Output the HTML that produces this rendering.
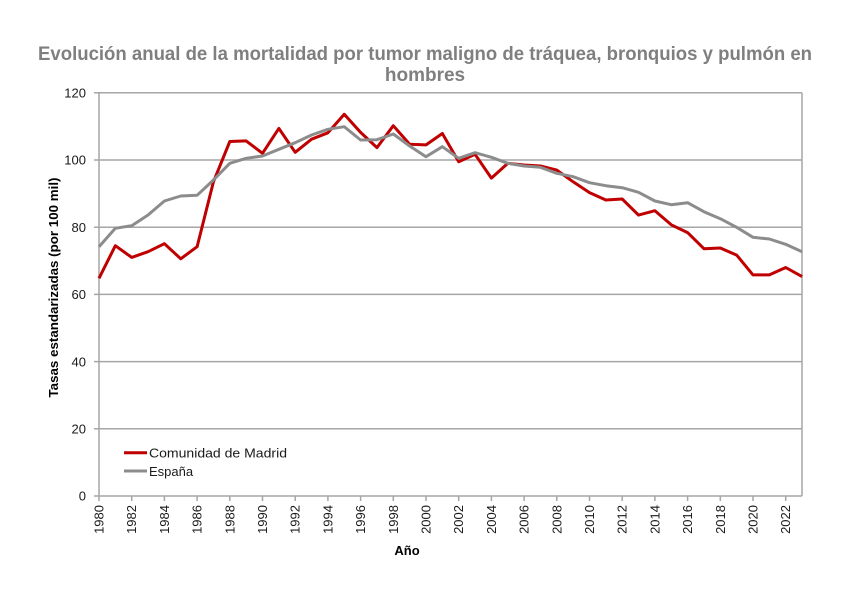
<!DOCTYPE html>
<html><head><meta charset="utf-8"><style>
html,body{margin:0;padding:0;background:#fff;}
svg{display:block;}
text{font-family:"Liberation Sans",Arial,sans-serif;}
</style></head><body>
<svg width="855" height="592" viewBox="0 0 855 592" xmlns="http://www.w3.org/2000/svg">
<rect width="855" height="592" fill="#fff"/>
<text x="425" y="60" text-anchor="middle" font-size="19" font-weight="bold" fill="#7f7f7f" textLength="774" lengthAdjust="spacingAndGlyphs">Evolución anual de la mortalidad por tumor maligno de tráquea, bronquios y pulmón en</text>
<text x="425" y="81" text-anchor="middle" font-size="19" font-weight="bold" fill="#7f7f7f">hombres</text>
<g stroke="#a6a6a6" stroke-width="1.5" fill="none">
<line x1="99" y1="92.8" x2="802" y2="92.8"/>
<line x1="99" y1="160" x2="802" y2="160"/>
<line x1="99" y1="227.2" x2="802" y2="227.2"/>
<line x1="99" y1="294.4" x2="802" y2="294.4"/>
<line x1="99" y1="361.6" x2="802" y2="361.6"/>
<line x1="99" y1="428.8" x2="802" y2="428.8"/>
<line x1="99" y1="496" x2="802" y2="496"/>
<line x1="99" y1="92.8" x2="99" y2="496"/>
<line x1="802" y1="92.8" x2="802" y2="496"/>
<line x1="94" y1="92.8" x2="99" y2="92.8"/>
<line x1="94" y1="160" x2="99" y2="160"/>
<line x1="94" y1="227.2" x2="99" y2="227.2"/>
<line x1="94" y1="294.4" x2="99" y2="294.4"/>
<line x1="94" y1="361.6" x2="99" y2="361.6"/>
<line x1="94" y1="428.8" x2="99" y2="428.8"/>
<line x1="94" y1="496" x2="99" y2="496"/>
<path d="M99 496v5M131.7 496v5M164.4 496v5M197.1 496v5M229.8 496v5M262.5 496v5M295.2 496v5M327.9 496v5M360.6 496v5M393.3 496v5M426 496v5M458.7 496v5M491.4 496v5M524.1 496v5M556.8 496v5M589.5 496v5M622.2 496v5M654.9 496v5M687.6 496v5M720.3 496v5M753 496v5M785.7 496v5"/>
</g>
<g font-size="13" fill="#1a1a1a" text-anchor="end">
<text x="86" y="97.5">120</text>
<text x="86" y="164.7">100</text>
<text x="86" y="231.9">80</text>
<text x="86" y="299.1">60</text>
<text x="86" y="366.3">40</text>
<text x="86" y="433.5">20</text>
<text x="86" y="500.7">0</text>
</g>
<g font-size="13" fill="#1a1a1a" text-anchor="end">
<text transform="translate(103.5,505) rotate(-90)">1980</text>
<text transform="translate(136.2,505) rotate(-90)">1982</text>
<text transform="translate(168.9,505) rotate(-90)">1984</text>
<text transform="translate(201.6,505) rotate(-90)">1986</text>
<text transform="translate(234.3,505) rotate(-90)">1988</text>
<text transform="translate(267,505) rotate(-90)">1990</text>
<text transform="translate(299.7,505) rotate(-90)">1992</text>
<text transform="translate(332.4,505) rotate(-90)">1994</text>
<text transform="translate(365.1,505) rotate(-90)">1996</text>
<text transform="translate(397.8,505) rotate(-90)">1998</text>
<text transform="translate(430.5,505) rotate(-90)">2000</text>
<text transform="translate(463.2,505) rotate(-90)">2002</text>
<text transform="translate(495.9,505) rotate(-90)">2004</text>
<text transform="translate(528.6,505) rotate(-90)">2006</text>
<text transform="translate(561.3,505) rotate(-90)">2008</text>
<text transform="translate(594,505) rotate(-90)">2010</text>
<text transform="translate(626.7,505) rotate(-90)">2012</text>
<text transform="translate(659.4,505) rotate(-90)">2014</text>
<text transform="translate(692.1,505) rotate(-90)">2016</text>
<text transform="translate(724.8,505) rotate(-90)">2018</text>
<text transform="translate(757.5,505) rotate(-90)">2020</text>
<text transform="translate(790.2,505) rotate(-90)">2022</text>
</g>
<text x="407" y="555" text-anchor="middle" font-size="13" font-weight="bold" fill="#000">Año</text>
<text transform="translate(58,287.5) rotate(-90)" text-anchor="middle" font-size="12.5" font-weight="bold" fill="#000" textLength="220" lengthAdjust="spacingAndGlyphs">Tasas estandarizadas (por 100 mil)</text>
<polyline fill="none" stroke="#c00000" stroke-width="3" stroke-linejoin="round" points="99,278.3 115.35,245.7 131.7,257.4 148.05,251.7 164.4,243.7 180.75,258.8 197.1,246.7 213.45,181.8 229.8,141.5 246.15,140.9 262.5,153.3 278.85,128.4 295.2,152.3 311.55,139.2 327.9,132.8 344.25,114.3 360.6,132.4 376.95,147.6 393.3,125.7 409.65,144.2 426,144.9 442.35,133.5 458.7,161.7 475.05,154.3 491.4,178.1 507.75,163.4 524.1,165 540.45,166 556.8,170.1 573.15,181.8 589.5,192.6 605.85,200 622.2,199 638.55,215.1 654.9,210.7 671.25,224.8 687.6,232.6 703.95,248.7 720.3,248 736.65,255.1 753,274.9 769.35,274.9 785.7,267.5 802.05,276.6"/>
<polyline fill="none" stroke="#8c8c8c" stroke-width="3" stroke-linejoin="round" points="99,246.7 115.35,228.3 131.7,225.7 148.05,215 164.4,201 180.75,196 197.1,195.3 213.45,180 229.8,163.3 246.15,158.3 262.5,156 278.85,149.3 295.2,142.7 311.55,135 327.9,129.3 344.25,126.7 360.6,140 376.95,139.7 393.3,134 409.65,146 426,156.7 442.35,146.7 458.7,158.3 475.05,152.7 491.4,157.3 507.75,163.3 524.1,166 540.45,167.3 556.8,173.3 573.15,176.7 589.5,182.7 605.85,185.7 622.2,187.7 638.55,192.3 654.9,201 671.25,204.7 687.6,202.7 703.95,211.7 720.3,218.7 736.65,227.3 753,237.3 769.35,239 785.7,244.3 802.05,251.7"/>
<line x1="124" y1="452.7" x2="147" y2="452.7" stroke="#c00000" stroke-width="3"/>
<line x1="124" y1="471" x2="147" y2="471" stroke="#8c8c8c" stroke-width="3"/>
<text x="149" y="457.5" font-size="13" fill="#1a1a1a" textLength="138" lengthAdjust="spacingAndGlyphs">Comunidad de Madrid</text>
<text x="149" y="475.8" font-size="13" fill="#1a1a1a">España</text>
</svg>
</body></html>
